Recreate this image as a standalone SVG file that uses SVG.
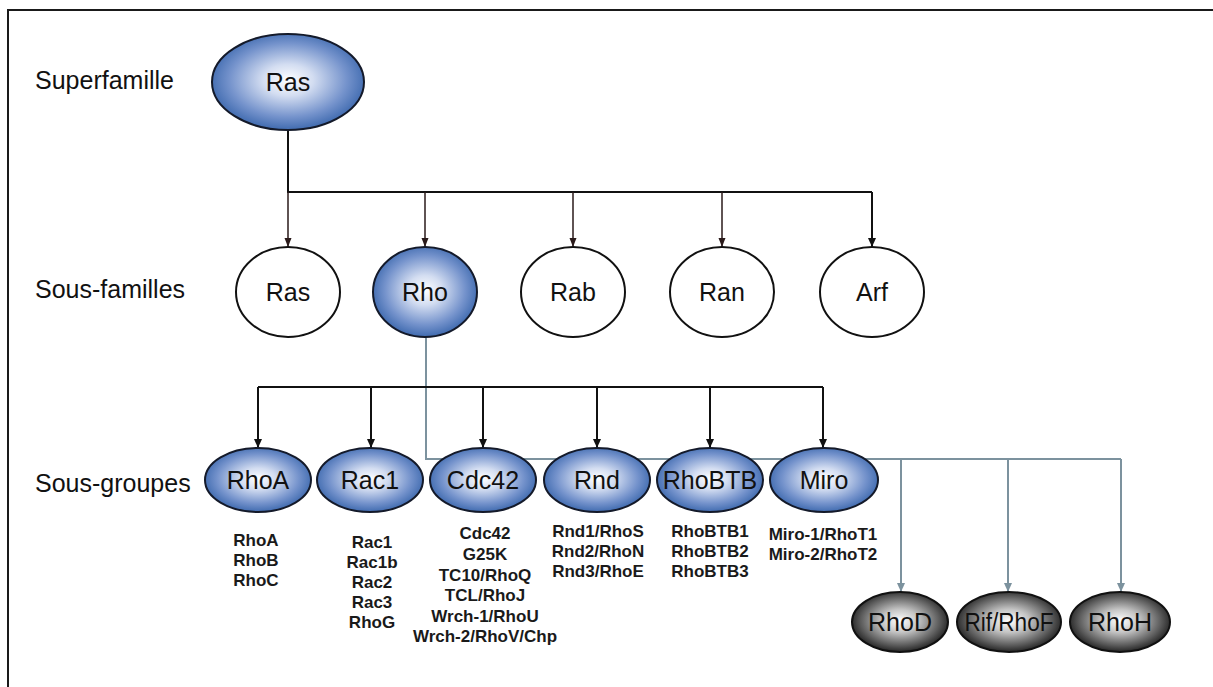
<svg xmlns="http://www.w3.org/2000/svg" width="1213" height="687" viewBox="0 0 1213 687">
<defs>
<radialGradient id="gBlue" cx="50%" cy="48%" r="55%">
<stop offset="0" stop-color="#ffffff"/>
<stop offset="0.3" stop-color="#d3ddf1"/>
<stop offset="0.7" stop-color="#7593cc"/>
<stop offset="1" stop-color="#3462a9"/>
</radialGradient>
<radialGradient id="gDark" cx="50%" cy="48%" r="55%">
<stop offset="0" stop-color="#ffffff"/>
<stop offset="0.35" stop-color="#c4c4c4"/>
<stop offset="0.75" stop-color="#5a5a5a"/>
<stop offset="1" stop-color="#151515"/>
</radialGradient>
<marker id="aBlack" markerWidth="10" markerHeight="10" refX="9" refY="5" orient="auto" markerUnits="userSpaceOnUse">
<path d="M0,1 L9,5 L0,9 Z" fill="#111"/>
</marker>
<marker id="aThin" markerWidth="10" markerHeight="10" refX="9" refY="5" orient="auto" markerUnits="userSpaceOnUse">
<path d="M0,1.5 L9,5 L0,8.5 Z" fill="#2a1a1a"/>
</marker>
<marker id="aGray" markerWidth="10" markerHeight="10" refX="9" refY="5" orient="auto" markerUnits="userSpaceOnUse">
<path d="M0,1 L9,5 L0,9 Z" fill="#7c929e"/>
</marker>
</defs>
<style>
.lbl{font-family:"Liberation Sans",Arial,sans-serif;font-size:25px;fill:#111}
.nt{font-family:"Liberation Sans",Arial,sans-serif;font-size:25px;fill:#111;text-anchor:middle}
.sub{font-family:"Liberation Sans",Arial,sans-serif;font-size:17px;font-weight:bold;fill:#1a1a1a;text-anchor:middle}
.blue{fill:url(#gBlue);stroke:#141a2a;stroke-width:2}
.white{fill:#fff;stroke:#111;stroke-width:2}
.dark{fill:url(#gDark);stroke:#111;stroke-width:2}
.cb{fill:none;stroke:#111;stroke-width:2}
.ct{fill:none;stroke:#2a1a1a;stroke-width:1.5}
.cg{fill:none;stroke:#7c929e;stroke-width:2}
</style>
<rect x="0" y="0" width="1213" height="687" fill="#fff"/>
<path d="M8,687 L8,10 L1213,10" fill="none" stroke="#1a1a1a" stroke-width="2"/>

<g id="level-labels">
<text class="lbl" x="35" y="89">Superfamille</text>
<text class="lbl" x="35" y="298">Sous-familles</text>
<text class="lbl" x="35" y="492">Sous-groupes</text>
</g>

<g id="connectors">
<path class="cg" d="M426,337 L426,459 L1121,459"/>
<path class="cg" d="M901,459 L901,592" marker-end="url(#aGray)"/>
<path class="cg" d="M1008,459 L1008,592" marker-end="url(#aGray)"/>
<path class="cg" d="M1121,459 L1121,592" marker-end="url(#aGray)"/>
<path class="cb" d="M288,130 L288,192 L872,192"/>
<path class="ct" d="M288,192 L288,247" marker-end="url(#aThin)"/>
<path class="ct" d="M425,192 L425,247" marker-end="url(#aThin)"/>
<path class="ct" d="M573,192 L573,247" marker-end="url(#aThin)"/>
<path class="ct" d="M722,192 L722,247" marker-end="url(#aThin)"/>
<path class="cb" d="M872,192 L872,247" marker-end="url(#aBlack)"/>
<path class="cb" d="M258,387 L823,387"/>
<path class="cb" d="M258,387 L258,448" marker-end="url(#aBlack)"/>
<path class="cb" d="M371,387 L371,448" marker-end="url(#aBlack)"/>
<path class="cb" d="M483,387 L483,448" marker-end="url(#aBlack)"/>
<path class="cb" d="M597,387 L597,448" marker-end="url(#aBlack)"/>
<path class="cb" d="M710,387 L710,448" marker-end="url(#aBlack)"/>
<path class="cb" d="M823,387 L823,448" marker-end="url(#aBlack)"/>
</g>

<g id="node-ras-super"><ellipse class="blue" cx="288" cy="82" rx="76" ry="48"/><text class="nt" x="288" y="91">Ras</text></g>

<g id="node-ras"><ellipse class="white" cx="288" cy="292" rx="52" ry="45"/><text class="nt" x="288" y="301">Ras</text></g>
<g id="node-rho"><ellipse class="blue" cx="425" cy="292" rx="52" ry="45"/><text class="nt" x="425" y="301">Rho</text></g>
<g id="node-rab"><ellipse class="white" cx="573" cy="292" rx="52" ry="45"/><text class="nt" x="573" y="301">Rab</text></g>
<g id="node-ran"><ellipse class="white" cx="722" cy="292" rx="52" ry="45"/><text class="nt" x="722" y="301">Ran</text></g>
<g id="node-arf"><ellipse class="white" cx="872" cy="292" rx="52" ry="45"/><text class="nt" x="872" y="301">Arf</text></g>

<g id="node-rhoa"><ellipse class="blue" cx="258" cy="480" rx="53" ry="32"/><text class="nt" x="258" y="489">RhoA</text>
<text class="sub" x="256" y="546">RhoA</text><text class="sub" x="256" y="566">RhoB</text><text class="sub" x="256" y="586">RhoC</text></g>
<g id="node-rac1"><ellipse class="blue" cx="370" cy="480" rx="53" ry="32"/><text class="nt" x="370" y="489">Rac1</text>
<text class="sub" x="372" y="548">Rac1</text><text class="sub" x="372" y="568">Rac1b</text><text class="sub" x="372" y="588">Rac2</text><text class="sub" x="372" y="608">Rac3</text><text class="sub" x="372" y="628">RhoG</text></g>
<g id="node-cdc42"><ellipse class="blue" cx="483" cy="480" rx="53" ry="32"/><text class="nt" x="483" y="489">Cdc42</text>
<text class="sub" x="485" y="539">Cdc42</text><text class="sub" x="485" y="560">G25K</text><text class="sub" x="485" y="581">TC10/RhoQ</text><text class="sub" x="485" y="601">TCL/RhoJ</text><text class="sub" x="485" y="622">Wrch-1/RhoU</text><text class="sub" x="485" y="642">Wrch-2/RhoV/Chp</text></g>
<g id="node-rnd"><ellipse class="blue" cx="597" cy="480" rx="53" ry="32"/><text class="nt" x="597" y="489">Rnd</text>
<text class="sub" x="598" y="537">Rnd1/RhoS</text><text class="sub" x="598" y="557">Rnd2/RhoN</text><text class="sub" x="598" y="577">Rnd3/RhoE</text></g>
<g id="node-rhobtb"><ellipse class="blue" cx="710" cy="480" rx="53" ry="32"/><text class="nt" x="710" y="489">RhoBTB</text>
<text class="sub" x="710" y="537">RhoBTB1</text><text class="sub" x="710" y="557">RhoBTB2</text><text class="sub" x="710" y="577">RhoBTB3</text></g>
<g id="node-miro"><ellipse class="blue" cx="824" cy="480" rx="54" ry="32"/><text class="nt" x="824" y="489">Miro</text>
<text class="sub" x="823" y="540">Miro-1/RhoT1</text><text class="sub" x="823" y="560">Miro-2/RhoT2</text></g>

<g id="node-rhod"><ellipse class="dark" cx="900" cy="622" rx="48" ry="30"/><text class="nt" x="900" y="631">RhoD</text></g>
<g id="node-rif"><ellipse class="dark" cx="1009" cy="622" rx="52" ry="30"/><text class="nt" x="1009" y="631" textLength="89" lengthAdjust="spacingAndGlyphs">Rif/RhoF</text></g>
<g id="node-rhoh"><ellipse class="dark" cx="1120" cy="622" rx="50" ry="30"/><text class="nt" x="1120" y="631">RhoH</text></g>
</svg>
